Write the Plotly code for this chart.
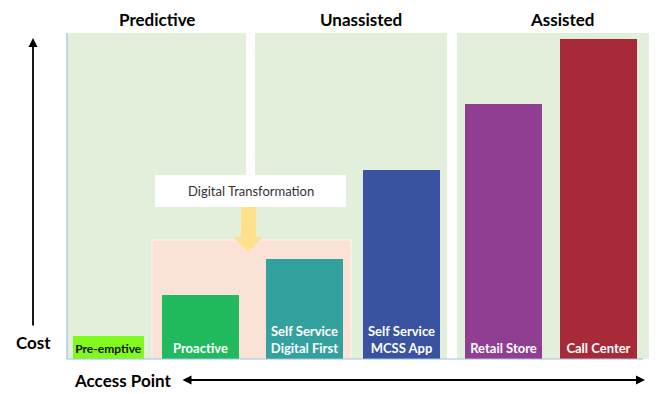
import plotly.graph_objects as go

# ---- data ----
categories = ["Pre-emptive", "Proactive", "Self Service<br>Digital First",
              "Self Service<br>MCSS App", "Retail Store", "Call Center"]
cost_values = [7.0, 19.6, 30.7, 58.0, 78.2, 98.2]
bar_colors = ["#80FA1C", "#21BA5F", "#33A19D", "#3953A1", "#8F3E92", "#A82A38"]
label_colors = ["#111111", "white", "white", "white", "white", "white"]
label_sizes = [12, 13, 13, 13, 13, 13]
group_titles = ["Predictive", "Unassisted", "Assisted"]

# layout geometry (pixels)
W, H = 661, 394
ML, MR, MT, MB = 67, 12, 33, 35
PW = W - ML - MR
PH = H - MT - MB
UNIT = PW / 6.0

def xu(px):
    return (px - ML) / UNIT - 0.5

def yu(py):
    return (H - MB - py) / PH * 100.0

def xp(px):
    return (px - ML) / PW

def yp(py):
    return (H - MB - py) / PH

bar_offsets = [-0.438, -0.521, -0.448, -0.448, -0.397, -0.418]
bar_widths = [0.732, 0.794, 0.794, 0.794, 0.794, 0.794]

fig = go.Figure()
fig.add_trace(go.Bar(
    x=list(range(len(categories))), y=cost_values,
    offset=bar_offsets, width=bar_widths,
    marker=dict(color=bar_colors, line=dict(width=0)),
    text=categories, textposition="inside", insidetextanchor="start",
    textangle=0, constraintext="none",
    textfont=dict(family="Lato", size=label_sizes, color=label_colors, weight="bold"),
    hoverinfo="skip", showlegend=False,
))

shapes = []
panel_color = "#E2EFDA"
# group background panels
for x0, x1 in [(67, 246), (255, 447), (457, 649)]:
    shapes.append(dict(type="rect", xref="x", yref="y", x0=xu(x0), x1=xu(x1),
                       y0=0, y1=100, fillcolor=panel_color, line=dict(width=0), layer="below"))
# peach region
shapes.append(dict(type="rect", xref="x", yref="y", x0=xu(152), x1=xu(351),
                   y0=0, y1=yu(240), fillcolor="#FAE3D6",
                   line=dict(width=1, color="#FFF4EE"), layer="below"))
# white box
shapes.append(dict(type="rect", xref="x", yref="y", x0=xu(155), x1=xu(346),
                   y0=yu(207), y1=yu(175), fillcolor="white",
                   line=dict(width=0), layer="below"))
# yellow down arrow
ax_l, ax_r, hx_l, hx_r, cx = xu(241), xu(256), xu(233), xu(263), xu(248.5)
y_top, y_head, y_tip = yu(207), yu(237), yu(252)
path = (f"M {ax_l},{y_top} L {ax_r},{y_top} L {ax_r},{y_head} L {hx_r},{y_head} "
        f"L {cx},{y_tip} L {hx_l},{y_head} L {ax_l},{y_head} Z")
shapes.append(dict(type="path", xref="x", yref="y", path=path,
                   fillcolor="#FFE18C", line=dict(width=0), layer="below"))
# axis lines
shapes.append(dict(type="line", xref="paper", yref="paper", x0=0, x1=0, y0=0, y1=1,
                   line=dict(color="#9DC0E6", width=1.2)))
shapes.append(dict(type="line", xref="paper", yref="paper", x0=0, x1=xp(643), y0=0, y1=0,
                   line=dict(color="#9DC0E6", width=1.2)))

bold17 = dict(family="Lato", size=17, color="black", weight="bold")
annotations = []
for title, cxp in zip(group_titles, [157, 361, 562]):
    annotations.append(dict(xref="paper", yref="paper", x=xp(cxp), y=yp(19), text=title,
                            xanchor="center", yanchor="middle", showarrow=False, font=bold17))
annotations.append(dict(xref="x", yref="y", x=xu(251), y=yu(191),
                        text="Digital Transformation", showarrow=False,
                        xanchor="center", yanchor="middle",
                        font=dict(family="Lato", size=13, color="#333333")))
# cost arrow
annotations.append(dict(xref="paper", yref="paper", x=xp(33), y=yp(38), text="",
                        showarrow=True, axref="pixel", ayref="pixel", ax=0, ay=289,
                        arrowhead=2, arrowsize=1, arrowwidth=1.8, arrowcolor="black"))
annotations.append(dict(xref="paper", yref="paper", x=xp(33), y=yp(342), text="Cost",
                        xanchor="center", yanchor="middle", showarrow=False, font=bold17))
annotations.append(dict(xref="paper", yref="paper", x=xp(122), y=yp(380), text="Access Point",
                        xanchor="center", yanchor="middle", showarrow=False, font=bold17))
annotations.append(dict(xref="paper", yref="paper", x=xp(645), y=yp(380), text="",
                        showarrow=True, axref="pixel", ayref="pixel", ax=-464, ay=0,
                        arrowhead=2, arrowside="end+start", arrowsize=1, arrowwidth=1.8,
                        arrowcolor="black"))

fig.update_layout(
    width=W, height=H,
    margin=dict(l=ML, r=MR, t=MT, b=MB),
    paper_bgcolor="white", plot_bgcolor="white",
    xaxis=dict(range=[-0.5, 5.5], showgrid=False, zeroline=False, showticklabels=False,
               ticks="", showline=False, fixedrange=True),
    yaxis=dict(range=[0, 100], showgrid=False, zeroline=False, showticklabels=False,
               ticks="", showline=False, fixedrange=True),
    shapes=shapes, annotations=annotations,
    bargap=0,
    uniformtext=dict(mode=False),
)

fig.write_html("out.html", config={"displayModeBar": False},
               post_script="document.body.style.margin='0';document.body.style.overflow='hidden';")
